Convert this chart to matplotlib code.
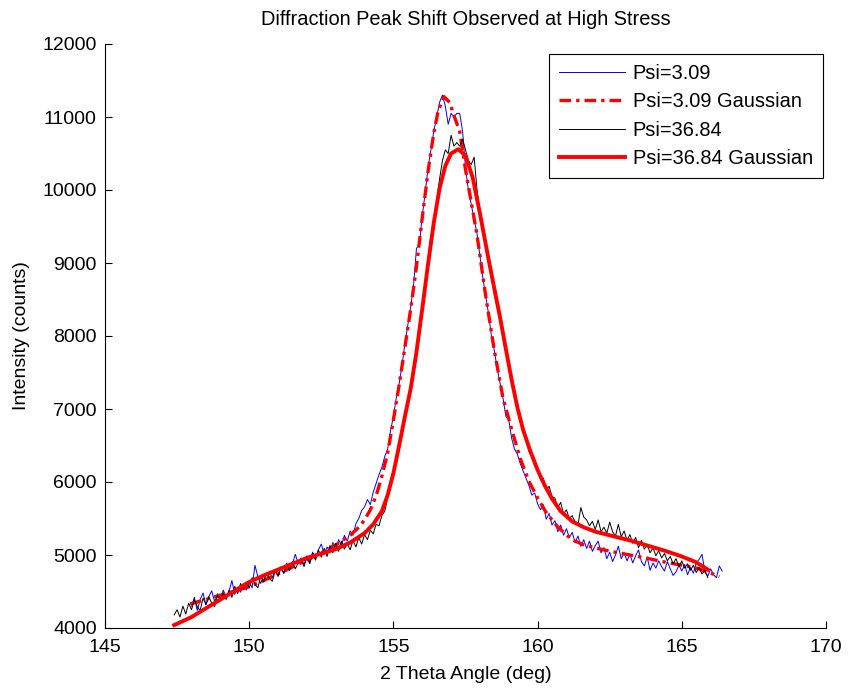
import numpy as np
import matplotlib
matplotlib.use('Agg')
import matplotlib.pyplot as plt

plt.rcParams['font.family'] = ['Liberation Sans', 'DejaVu Sans']
plt.rcParams['font.size'] = 14

scan_step = 0.1

psi309_start = 148.0
psi309_counts = [
    4300, 4420, 4240, 4390, 4480, 4320, 4430, 4510, 4360, 4470,
    4390, 4520, 4420, 4500, 4650, 4460, 4560, 4490, 4610, 4520,
    4630, 4550, 4860, 4700, 4610, 4720, 4650, 4770, 4690, 4800,
    4710, 4840, 4750, 4890, 4790, 4880, 5010, 4880, 4960, 4870,
    4990, 4900, 5040, 4950, 5070, 5150, 5010, 5110, 5040, 5170,
    5090, 5210, 5130, 5270, 5190, 5330, 5270, 5430, 5500, 5610,
    5660, 5760, 5690, 5860, 5980, 6100, 6200, 6350, 6450, 6700,
    6900, 7150, 7350, 7600, 7900, 8150, 8400, 8700, 9200, 9250,
    9650, 9950, 10300, 10550, 10800, 11000, 11200, 11300, 11150, 10900,
    11050, 11000, 11050, 11050, 10800, 10300, 10000, 9800, 9600, 9400,
    9100, 8800, 8550, 8300, 8000, 7800, 7550, 7350, 7150, 6900,
    6850, 6600, 6450, 6380, 6250, 6150, 6050, 5950, 5820, 5850,
    5700, 5620, 5690, 5490, 5570, 5410, 5470, 5320, 5410, 5270,
    5360, 5240, 5310, 5170, 5260, 5120, 5210, 5090, 5190, 5050,
    5130, 5190, 5030, 5100, 4950, 5040, 4910, 5000, 5120, 4950,
    5030, 4920, 5010, 4890, 4990, 5070, 4910, 4850, 4970, 4790,
    4890, 4820, 4920, 4840, 4780, 4910, 4810, 4720, 4770, 4860,
    4780, 4870, 4730, 4830, 4750, 4890, 4940, 5010, 4770, 4710,
    4810, 4730, 4690, 4850, 4780,
]

psi3684_start = 147.4
psi3684_counts = [
    4180, 4250, 4150, 4300, 4190, 4340, 4250, 4390, 4290, 4240,
    4410, 4320, 4430, 4340, 4290, 4450, 4370, 4480, 4390, 4520,
    4420, 4570, 4470, 4610, 4530, 4630, 4550, 4690, 4600, 4550,
    4710, 4630, 4750, 4680, 4640, 4780, 4710, 4820, 4750, 4870,
    4790, 4910, 4810, 4890, 4950, 4840, 4970, 4880, 5020, 4930,
    5070, 4970, 5090, 4980, 5130, 5030, 5160, 5050, 5190, 5080,
    5160, 5070, 5200, 5110, 5240, 5150, 5280, 5210, 5340, 5290,
    5420, 5400, 5540, 5600, 5780, 5920, 6100, 6350, 6560, 6700,
    6930, 7100, 7320, 7560, 7800, 8080, 8400, 8700, 9050, 9380,
    9500, 9850, 10150, 10400, 10550, 10500, 10750, 10600, 10650, 10600,
    10700, 10550, 10400, 10350, 10450, 10000, 9700, 9400, 9250, 9000,
    8800, 8560, 8400, 8200, 8000, 7800, 7600, 7400, 7150, 6980,
    6850, 6700, 6580, 6420, 6350, 6220, 6180, 6030, 6050, 5900,
    5940, 5800, 5780, 5650, 5720, 5560, 5620, 5500, 5540, 5450,
    5420, 5650, 5520, 5480, 5400, 5460, 5350, 5480, 5320, 5380,
    5300, 5450, 5320, 5260, 5420, 5250, 5330, 5200, 5280, 5160,
    5240, 5100, 5200, 5080, 5140, 5030, 5100, 4990, 5060, 4960,
    5020, 4920, 4980, 4880, 4950, 4840, 4920, 4820, 4880, 4790,
    4860, 4760, 4830, 4740, 4790, 4690,
]

# gaussian fits
fit309_angle = [147.95, 148.5, 149.0, 149.5, 150.0, 150.5, 151.0, 151.5, 152.0, 152.5,
                153.0, 153.5, 153.8, 154.0, 154.2, 154.4, 154.6, 154.8, 155.0, 155.2,
                155.4, 155.6, 155.8, 156.0, 156.2, 156.4, 156.55, 156.75, 156.95, 157.1,
                157.3, 157.5, 157.7, 157.9, 158.2, 158.5, 158.8, 159.1, 159.4, 159.7,
                160.0, 160.3, 160.7, 161.2, 161.6, 162.0, 162.6, 163.2, 163.8, 164.35,
                165.0, 165.5, 165.9, 166.3]
fit309_counts = [4330, 4390, 4450, 4505, 4566, 4650, 4740, 4835, 4932, 5030,
                 5137, 5270, 5380, 5480, 5620, 5810, 6080, 6393, 6850, 7330,
                 7850, 8370, 8950, 9620, 10250, 10780, 11080, 11280, 11200, 11020,
                 10800, 10280, 9830, 9380, 8550, 7800, 7150, 6720, 6320, 6010,
                 5780, 5580, 5384, 5206, 5140, 5096, 5045, 5000, 4955, 4908,
                 4860, 4822, 4770, 4703]

fit3684_angle = [147.4, 148.0, 148.5, 149.0, 149.5, 150.0, 150.5, 151.0, 151.5, 152.0,
                 152.5, 153.0, 153.5, 154.0, 154.3, 154.6, 154.8, 155.0, 155.2, 155.4,
                 155.6, 155.8, 156.0, 156.2, 156.4, 156.6, 156.8, 157.0, 157.25, 157.5,
                 157.75, 158.0, 158.3, 158.5, 158.7, 158.9, 159.1, 159.3, 159.5, 159.75,
                 160.0, 160.25, 160.5, 160.8, 161.2, 161.6, 162.0, 162.6, 163.2, 163.8,
                 164.4, 165.0, 165.5, 165.9]
fit3684_counts = [4040, 4150, 4270, 4390, 4510, 4630, 4720, 4800, 4880, 4960,
                  5020, 5080, 5170, 5300, 5420, 5600, 5820, 6120, 6500, 6900,
                  7280, 7780, 8370, 8980, 9550, 10020, 10330, 10500, 10560, 10470,
                  10170, 9680, 9050, 8650, 8250, 7820, 7398, 7020, 6712, 6420,
                  6165, 5950, 5770, 5600, 5460, 5380, 5320, 5260, 5200, 5130,
                  5060, 4980, 4900, 4800]

psi309_angle = psi309_start + scan_step * np.arange(len(psi309_counts))
psi3684_angle = psi3684_start + scan_step * np.arange(len(psi3684_counts))

fig = plt.figure(figsize=(8.53, 6.88), dpi=100)
ax = fig.add_axes([105 / 853, 60 / 688, 721 / 853, 584 / 688])

ax.plot(psi309_angle, psi309_counts, color='blue', lw=0.7, label='Psi=3.09')
ax.plot(fit309_angle, fit309_counts, color='red', lw=2.4,
        linestyle=(0, (3.5, 1.5, 1, 1.5)), label='Psi=3.09 Gaussian')
ax.plot(psi3684_angle, psi3684_counts, color='black', lw=0.7, label='Psi=36.84')
ax.plot(fit3684_angle, fit3684_counts, color='red', lw=2.8, label='Psi=36.84 Gaussian')

ax.set_xlim(145, 170)
ax.set_ylim(4000, 12000)
ax.set_xticks(range(145, 171, 5))
ax.set_yticks(range(4000, 12001, 1000))
ax.spines['top'].set_visible(False)
ax.spines['right'].set_visible(False)
for s in ['left', 'bottom']:
    ax.spines[s].set_linewidth(0.8)
ax.tick_params(direction='in', length=5, width=0.8, pad=6)
ax.tick_params(axis='x', pad=8)

ax.set_title('Diffraction Peak Shift Observed at High Stress', fontsize=14.4, pad=14)
ax.set_xlabel('2 Theta Angle (deg)', labelpad=7)
ax.set_ylabel('Intensity (counts)', labelpad=9)

leg = ax.legend(loc='upper right', bbox_to_anchor=(823 / 853, (688 - 54) / 688),
                bbox_transform=fig.transFigure, borderaxespad=0, fancybox=False,
                framealpha=1, edgecolor='black', handlelength=3.3, handletextpad=0.4,
                borderpad=0.5, labelspacing=0.47, fontsize=14.4)
leg.get_frame().set_linewidth(0.8)

fig.savefig('out.png', dpi=100)
